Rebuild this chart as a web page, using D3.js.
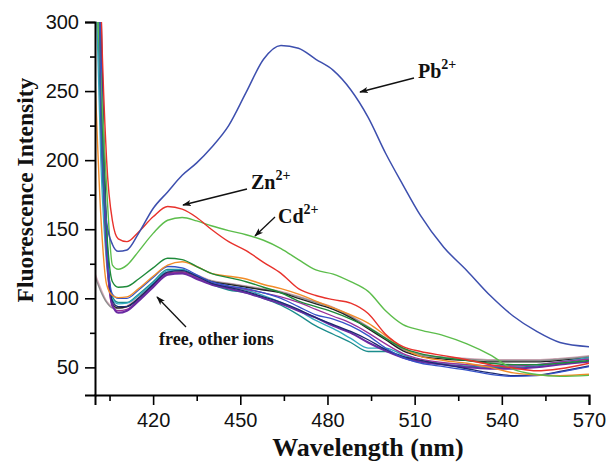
<!DOCTYPE html>
<html>
<head>
<meta charset="utf-8">
<script src="https://cdn.jsdelivr.net/npm/d3@7"></script>
<style>
  html, body { margin: 0; padding: 0; background: #fff; }
  svg { display: block; }
</style>
</head>
<body>
<svg id="chart" width="606" height="462"></svg>
<script>
// Emission wavelengths (nm) shared by every spectrum
const wavelengths = [400, 402, 404, 406, 408, 411, 415, 420, 425, 430, 435, 440, 446, 452, 458, 464,
                     470, 476, 482, 488, 494, 500, 506, 512, 520, 528, 536, 544, 552, 560, 570];

// Fluorescence intensity for each metal ion
const pb = [600, 230, 155, 139, 134, 135, 147, 165, 177, 189, 198, 209, 225, 249, 273, 283,
            281, 273, 265, 251, 231, 205, 182, 160, 137, 120, 102, 87, 76, 68, 65];
const zn = [600, 320, 200, 156, 143, 141, 148, 159, 166.5, 164.5, 158.5, 150, 141, 134.5, 126, 118,
            107, 102, 99, 96.5, 89, 74, 65, 61.5, 58.5, 55.5, 52, 49.5, 47.5, 49, 53];
const cd = [340, 260, 180, 124, 121, 124, 134, 147, 156.5, 158.5, 156, 152.5, 149, 146, 142, 136,
            128, 120.5, 117.5, 112, 105, 91, 81, 77, 73, 67, 59, 48.5, 44.8, 43.5, 44.2];
const ionA = [420, 250, 150, 112, 108, 108.5, 114, 122, 129, 128, 123, 118, 115, 112, 108, 104,
              98, 94, 90, 85, 79, 71, 64, 60, 57, 55, 53, 52, 52, 53, 55];
const ionB = [260, 160, 110, 102, 100.5, 101, 107, 116, 124, 126.5, 123, 118, 116, 114, 110, 107,
              103, 98, 93, 88, 82, 73, 64, 58, 55, 53, 50, 46, 44.5, 44, 45];
const ionC = [500, 280, 140, 103, 100, 100, 106, 115, 123, 122, 117, 112, 109, 107, 104, 100,
              94, 88, 85, 80, 73, 64, 57, 53, 50.5, 48, 45, 43.5, 44, 46.5, 50.5];
const ionD = [380, 220, 130, 101, 97, 97, 103, 112, 121, 121, 115, 110, 106, 104, 100, 95,
              88, 80, 74, 68, 61.5, 61.5, 57, 54, 52, 51, 50, 50, 51, 53, 56];
const ionE = [350, 200, 125, 99, 96, 96.5, 102, 111, 120, 120.5, 116, 111, 108, 106, 102, 97,
              91, 84, 78, 71, 64, 64, 59, 55, 53, 52, 51, 51, 52, 54, 57];
const ionF = [450, 270, 140, 95, 89.5, 91, 98, 108, 117, 118, 114, 110, 107, 104, 100, 96,
              91, 86, 80, 75, 68, 62, 57, 54, 52, 50, 49, 49, 50, 52, 54];
const ionG = [600, 320, 150, 98, 94, 94, 100, 110, 119, 120, 116, 111, 108, 105, 101, 97,
              92, 86, 81, 76, 70, 63, 58, 55, 52, 49, 46, 44, 44.5, 47, 51];
const ionH = [550, 300, 140, 96, 93, 94, 100, 110, 118, 119, 116, 112, 110, 108, 106, 104,
              100, 96, 92, 86, 78, 70, 62, 58, 56, 55, 54, 54, 54, 55, 57];
const ionI = [116, 105, 97, 93, 92.5, 94, 100, 110, 118, 119, 116, 112.5, 110.5, 108.5, 106.5, 104.5,
              101, 97, 93, 87, 79, 71, 63, 59, 57, 56, 55, 55, 55, 56, 58];
const ionJ = [118, 107, 98, 94, 93, 94.5, 101, 111, 119, 120, 117, 113, 111, 109, 107, 105,
              101.5, 97.5, 93.5, 87.5, 79.5, 71.5, 63.5, 59.5, 57.5, 56.5, 55.5, 55.5, 55.5, 56.5, 58.5];
const ionK = [480, 260, 130, 94, 91, 92, 99, 109, 118, 119, 115, 111, 108.5, 106.5, 104, 101,
              97, 92, 87, 82, 75, 67, 60, 56, 53.5, 52, 51, 51, 52, 54, 56];

// Spectra drawn back to front
const spectra = [
  { values: ionJ, color: "#d9aabb", width: 1.4 },
  { values: ionI, color: "#8c8c8c", width: 1.4 },
  { values: ionH, color: "#222222", width: 1.3 },
  { values: ionD, color: "#1b8c8c", width: 1.3 },
  { values: ionE, color: "#33a9bf", width: 1.3 },
  { values: ionK, color: "#9a2f9a", width: 1.3 },
  { values: ionF, color: "#6a2ba3", width: 2.0 },
  { values: ionG, color: "#1d2a70", width: 1.3 },
  { values: ionC, color: "#3552c9", width: 1.3 },
  { values: ionB, color: "#f28c28", width: 1.4 },
  { values: ionA, color: "#1e8a3a", width: 1.4 },
  { values: cd, color: "#5cbd4b", width: 1.4 },
  { values: zn, color: "#e8322c", width: 1.4 },
  { values: pb, color: "#3d4fae", width: 1.5 }
];

const xMajorTicks = [420, 450, 480, 510, 540, 570];
const xMinorTicks = [405, 435, 465, 495, 525, 555];
const yMajorTicks = [50, 100, 150, 200, 250, 300];
const yMinorTicks = [75, 125, 175, 225, 275];

const margin = { left: 95, right: 17, top: 22, bottom: 67 };
const W = 606, H = 462;
const svg = d3.select("#chart");

const x = d3.scaleLinear().domain([400, 570]).range([margin.left, W - margin.right]);
const y = d3.scaleLinear().domain([30, 300]).range([H - margin.bottom, margin.top]);

svg.append("defs").append("clipPath").attr("id", "plot-clip")
  .append("rect")
  .attr("x", x(400)).attr("y", y(300))
  .attr("width", x(570) - x(400)).attr("height", y(30) - y(300));

const marker = svg.select("defs").append("marker")
  .attr("id", "arrowhead")
  .attr("viewBox", "0 0 10 10")
  .attr("refX", 9).attr("refY", 5)
  .attr("markerWidth", 9).attr("markerHeight", 9)
  .attr("markerUnits", "userSpaceOnUse")
  .attr("orient", "auto");
marker.append("path").attr("d", "M0,1.5 L10,5 L0,8.5 L2.5,5 Z").attr("fill", "#111");

// Spectra
const line = d3.line()
  .x((d, i) => x(wavelengths[i]))
  .y(d => y(d))
  .curve(d3.curveMonotoneX);

svg.append("g").attr("clip-path", "url(#plot-clip)")
  .selectAll("path")
  .data(spectra)
  .join("path")
  .attr("d", d => line(d.values))
  .attr("fill", "none")
  .attr("stroke", d => d.color)
  .attr("stroke-width", d => d.width)
  .attr("stroke-linejoin", "round");

// Axes
const tickFont = "'Liberation Sans', Arial, sans-serif";

svg.append("g").attr("transform", `translate(0,${y(30)})`)
  .call(d3.axisBottom(x).tickValues(xMajorTicks).tickSize(10).tickPadding(8).tickFormat(d3.format("d")));
svg.append("g").attr("transform", `translate(0,${y(30)})`)
  .call(d3.axisBottom(x).tickValues(xMinorTicks).tickSize(6).tickFormat(""))
  .select(".domain").remove();

svg.append("g").attr("transform", `translate(${x(400)},0)`)
  .call(d3.axisLeft(y).tickValues(yMajorTicks).tickSize(10).tickPadding(6).tickFormat(d3.format("d")));
svg.append("g").attr("transform", `translate(${x(400)},0)`)
  .call(d3.axisLeft(y).tickValues(yMinorTicks).tickSize(5).tickFormat(""))
  .select(".domain").remove();

svg.selectAll(".domain").attr("stroke", "#000").attr("stroke-width", 2);
svg.selectAll(".tick line").attr("stroke", "#000").attr("stroke-width", 1.6);
svg.selectAll(".tick text")
  .attr("font-family", tickFont)
  .attr("font-size", 20)
  .attr("fill", "#111");

// Axis titles
const serif = "'Liberation Serif', 'Times New Roman', serif";
svg.append("text")
  .attr("x", (x(400) + x(570)) / 2 + 26)
  .attr("y", 456)
  .attr("text-anchor", "middle")
  .attr("font-family", serif)
  .attr("font-weight", "bold")
  .attr("font-size", 26)
  .attr("fill", "#111")
  .text("Wavelength (nm)");

svg.append("text")
  .attr("transform", "translate(33,190) rotate(-90)")
  .attr("text-anchor", "middle")
  .attr("font-family", serif)
  .attr("font-weight", "bold")
  .attr("font-size", 23.5)
  .attr("fill", "#111")
  .text("Fluorescence Intensity");

// Annotations: ion label with arrow pointing at its spectrum
const notes = [
  { ion: "Pb", charge: "2+", tx: 418, ty: 78, from: [414, 78], to: [360, 92] },
  { ion: "Zn", charge: "2+", tx: 251, ty: 189, from: [247, 189], to: [183, 205] },
  { ion: "Cd", charge: "2+", tx: 278, ty: 223, from: [275, 217], to: [255, 236] },
  { ion: "free, other ions", charge: "", tx: 159, ty: 345, from: [186, 327], to: [157, 297] }
];

const ann = svg.append("g");
notes.forEach(n => {
  ann.append("line")
    .attr("x1", n.from[0]).attr("y1", n.from[1])
    .attr("x2", n.to[0]).attr("y2", n.to[1])
    .attr("stroke", "#111").attr("stroke-width", 1.3)
    .attr("marker-end", "url(#arrowhead)");
  const t = ann.append("text")
    .attr("x", n.tx).attr("y", n.ty)
    .attr("font-family", serif)
    .attr("font-weight", "bold")
    .attr("font-size", n.charge ? 20 : 18)
    .attr("fill", "#111");
  t.append("tspan").text(n.ion);
  if (n.charge) {
    t.append("tspan").attr("dy", -9).attr("font-size", 14).text(n.charge);
  }
});
</script>
</body>
</html>
